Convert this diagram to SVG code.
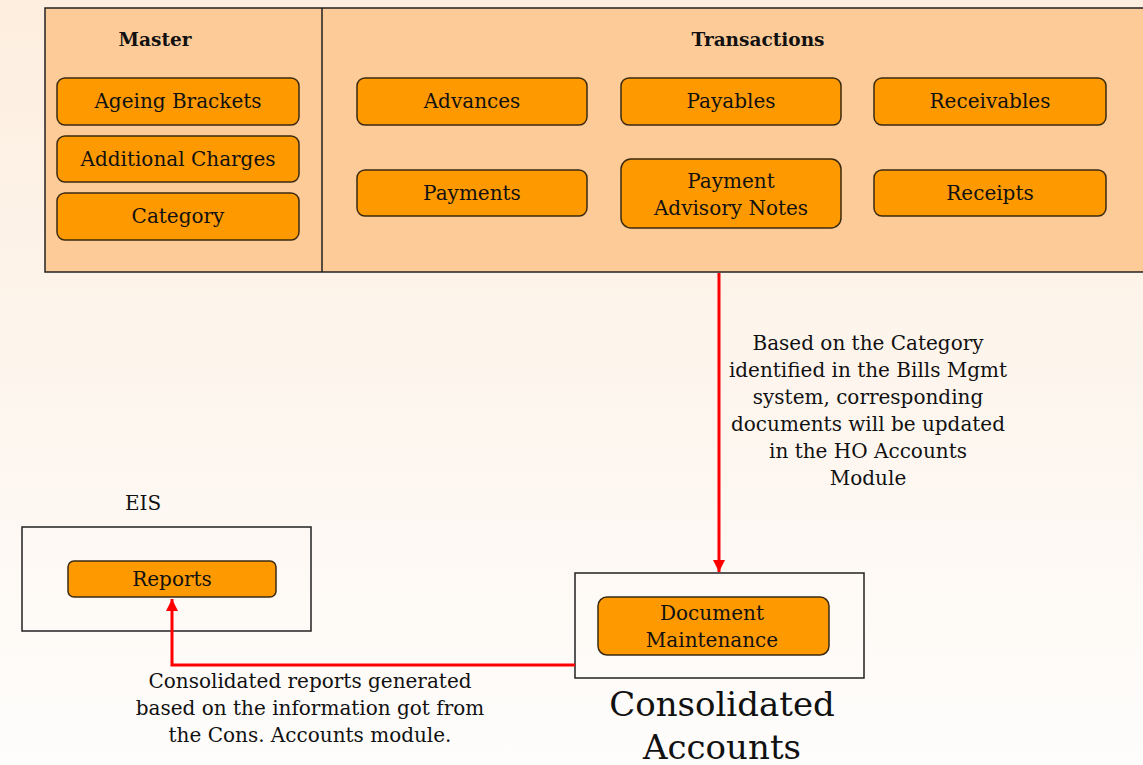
<svg xmlns="http://www.w3.org/2000/svg" width="1143" height="765" viewBox="0 0 1143 765">
<defs>
<linearGradient id="bg" x1="0" y1="0" x2="0" y2="1">
<stop offset="0" stop-color="#fdeedf"/>
<stop offset="1" stop-color="#fefdfc"/>
</linearGradient>
<marker id="ah" viewBox="0 0 10 10" refX="10" refY="5" markerWidth="4" markerHeight="4" orient="auto" markerUnits="strokeWidth">
<path d="M0,0 L10,5 L0,10 z" fill="#ff0000"/>
</marker>
<style>
.node rect.b{fill:#ff9900;stroke:#3a2a10;stroke-width:1.5}
.t{font-family:"DejaVu Serif","Liberation Serif",serif;font-size:20px;fill:#111;text-anchor:middle}
.a{font-family:"DejaVu Serif","Liberation Serif",serif;font-size:20px;fill:#111;text-anchor:middle}
.h{font-family:"DejaVu Serif","Liberation Serif",serif;font-size:18.5px;font-weight:bold;fill:#111;text-anchor:middle}
.big{font-family:"DejaVu Serif","Liberation Serif",serif;font-size:34px;fill:#111;text-anchor:middle}
.frame{fill:none;stroke:#222;stroke-width:1.5}
.conn{fill:none;stroke:#ff0000;stroke-width:3}
</style>
</defs>
<rect x="0" y="0" width="1143" height="765" fill="url(#bg)"/>

<g id="top-panel">
<rect x="45" y="8" width="1110" height="264" fill="#fdcb98" stroke="#222" stroke-width="1.5"/>
<line x1="322" y1="8" x2="322" y2="272" stroke="#222" stroke-width="1.5"/>
<text class="h" x="155" y="46">Master</text>
<text class="h" x="758" y="46">Transactions</text>
</g>

<g id="ageing-brackets" class="node"><rect class="b" x="57" y="78" width="242" height="47" rx="8"/><text class="t" x="178" y="108">Ageing Brackets</text></g>
<g id="additional-charges" class="node"><rect class="b" x="57" y="136" width="242" height="46" rx="8"/><text class="t" x="178" y="166">Additional Charges</text></g>
<g id="category" class="node"><rect class="b" x="57" y="193" width="242" height="47" rx="8"/><text class="t" x="178" y="223">Category</text></g>

<g id="advances" class="node"><rect class="b" x="357" y="78" width="230" height="47" rx="8"/><text class="t" x="472" y="108">Advances</text></g>
<g id="payables" class="node"><rect class="b" x="621" y="78" width="220" height="47" rx="8"/><text class="t" x="731" y="108">Payables</text></g>
<g id="receivables" class="node"><rect class="b" x="874" y="78" width="232" height="47" rx="8"/><text class="t" x="990" y="108">Receivables</text></g>
<g id="payments" class="node"><rect class="b" x="357" y="170" width="230" height="46" rx="8"/><text class="t" x="472" y="200">Payments</text></g>
<g id="payment-advisory-notes" class="node"><rect class="b" x="621" y="159" width="220" height="69" rx="10"/><text class="t" x="731" y="188">Payment</text><text class="t" x="731" y="215">Advisory Notes</text></g>
<g id="receipts" class="node"><rect class="b" x="874" y="170" width="232" height="46" rx="8"/><text class="t" x="990" y="200">Receipts</text></g>

<g id="eis">
<text class="a" x="143" y="510">EIS</text>
<rect class="frame" x="22" y="527" width="289" height="104"/>
</g>
<g id="reports" class="node"><rect class="b" x="68" y="561" width="208" height="36" rx="6"/><text class="t" x="172" y="586">Reports</text></g>

<g id="consolidated-accounts">
<rect class="frame" x="575" y="573" width="289" height="105"/>
<text class="big" x="722" y="716">Consolidated</text>
<text class="big" x="722" y="759">Accounts</text>
</g>
<g id="document-maintenance" class="node"><rect class="b" x="598" y="597" width="231" height="58" rx="9"/><text class="t" x="712" y="620">Document</text><text class="t" x="712" y="647">Maintenance</text></g>

<g id="connectors">
<line class="conn" x1="719" y1="273" x2="719" y2="572" marker-end="url(#ah)"/>
<polyline class="conn" points="575,665 172,665 172,599" marker-end="url(#ah)"/>
<text class="a" x="868" y="350">Based on the Category</text>
<text class="a" x="868" y="377">identified in the Bills Mgmt</text>
<text class="a" x="868" y="404">system, corresponding</text>
<text class="a" x="868" y="431">documents will be updated</text>
<text class="a" x="868" y="458">in the HO Accounts</text>
<text class="a" x="868" y="485">Module</text>
<text class="a" x="310" y="688">Consolidated reports generated</text>
<text class="a" x="310" y="715">based on the information got from</text>
<text class="a" x="310" y="742">the Cons. Accounts module.</text>
</g>
</svg>
